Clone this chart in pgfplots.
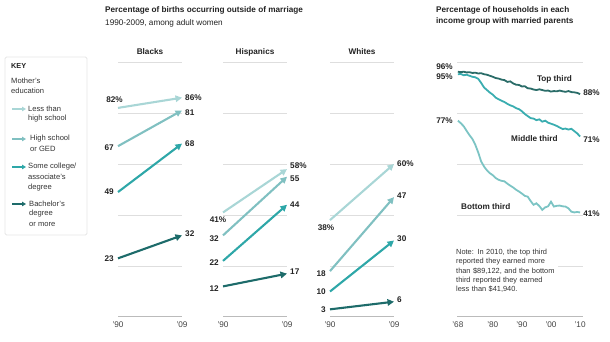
\documentclass[border=0pt]{standalone}
\usepackage{pgfplots}
\pgfplotsset{compat=1.18}
\usepackage{fontspec}
\setmainfont{Liberation Sans}
\usetikzlibrary{arrows.meta}

\definecolor{cA}{HTML}{A9D6D6}
\definecolor{cB}{HTML}{80C0C1}
\definecolor{cC}{HTML}{2EA7A8}
\definecolor{cD}{HTML}{1D6B6A}
\definecolor{rTop}{HTML}{2A6C68}
\definecolor{rMid}{HTML}{3AADB0}
\definecolor{rBot}{HTML}{7CC4C4}
\definecolor{txt}{HTML}{222222}
\definecolor{keyt}{HTML}{333333}
\definecolor{gridc}{HTML}{DEDEDE}
\definecolor{basec}{HTML}{BBBBBB}

\newcommand{\fs}{\fontsize{8.2}{9.8}\selectfont}
\newcommand{\ks}{\fontsize{7.6}{9.5}\selectfont}

\tikzset{kl/.style={anchor=west, font=\ks, text=keyt, inner sep=0pt},
  karr/.style={line width=1.5pt, -{Triangle[length=4pt,width=4.5pt]}, color=#1},
  lab/.style={font=\bfseries\fs, text=txt, inner sep=1pt},
  arr/.style={line width=2.1pt, -{Triangle[length=6.5pt,width=6.5pt]}, color=#1}}

\pgfplotsset{
  base/.style={scale only axis, height=255pt, ymin=0, ymax=100, clip=false,
    axis line style={draw=none}, ytick={20,40,60,80,100}, yticklabels={},
    ymajorgrids, grid style={gridc, line width=0.9pt},
    extra y ticks={0}, extra y tick labels={},
    extra y tick style={major grid style={basec, line width=1pt}},
    major tick length=0pt, tick style={draw=none},
    xticklabel style={font=\fs, text=txt!85, yshift=-1pt},
    /pgf/number format/assume math mode=true,
  },
  panel/.style={base, width=64pt, xmin=0, xmax=1, xtick={0,1}, xticklabels={’90,’09}},
}

\begin{document}
\begin{tikzpicture}
\path[use as bounding box] (0,0) rectangle (610pt,342pt);

% titles
\node[anchor=west, font=\bfseries\fs, text=txt, inner sep=0pt] at (105pt,332pt) {Percentage of births occurring outside of marriage};
\node[anchor=west, font=\fs, text=txt, inner sep=0pt] at (105pt,319pt) {1990-2009, among adult women};
\node[font=\bfseries\fs, text=txt, inner sep=0pt] at (150pt,290pt) {Blacks};
\node[font=\bfseries\fs, text=txt, inner sep=0pt] at (255pt,290pt) {Hispanics};
\node[font=\bfseries\fs, text=txt, inner sep=0pt] at (362pt,290pt) {Whites};
\node[anchor=west, font=\bfseries\fs, text=txt, inner sep=0pt] at (436pt,332pt) {Percentage of households in each};
\node[anchor=west, font=\bfseries\fs, text=txt, inner sep=0pt] at (436pt,321pt) {income group with married parents};

% key
\draw[draw=black!10, line width=0.8pt, rounded corners=1.5pt] (5pt,107pt) rectangle (87pt,285pt);
\node[anchor=west, font=\bfseries\fontsize{7.3}{9}\selectfont, text=txt, inner sep=0pt] at (11pt,276pt) {KEY};
\node[kl] at (11pt,261pt) {Mother's};
\node[kl] at (11pt,251pt) {education};
\draw[karr=cA] (12pt,233pt) -- (26pt,233pt);
\node[kl] at (28pt,233pt) {Less than};
\node[kl] at (28pt,223pt) {high school};
\draw[karr=cB] (12pt,203pt) -- (26pt,203pt);
\node[kl] at (30pt,203pt) {High school};
\node[kl] at (30pt,193pt) {or GED};
\draw[karr=cC] (12pt,175pt) -- (26pt,175pt);
\node[kl] at (28pt,175pt) {Some college/};
\node[kl] at (28pt,165pt) {associate's};
\node[kl] at (28pt,154pt) {degree};
\draw[karr=cD] (12pt,138pt) -- (26pt,138pt);
\node[kl] at (29pt,138pt) {Bachelor's};
\node[kl] at (29pt,128pt) {degree};
\node[kl] at (29pt,118pt) {or more};

% Blacks
\begin{axis}[panel, at={(118pt,25pt)}, anchor=south west]
\addplot[arr=cD] coordinates {(0,23) (1,32)};
\addplot[arr=cC] coordinates {(0,49) (1,68)};
\addplot[arr=cB] coordinates {(0,67) (1,81)};
\addplot[arr=cA] coordinates {(0,82) (1,86)};
\node[lab, xshift=-3.5pt, yshift=8pt] at (axis cs:0,82) {82\%};
\node[lab, anchor=west, xshift=2pt] at (axis cs:1,86) {86\%};
\node[lab, anchor=east, xshift=-3pt, yshift=-2pt] at (axis cs:0,67) {67};
\node[lab, anchor=west, xshift=2pt, yshift=-2pt] at (axis cs:1,81) {81};
\node[lab, anchor=east, xshift=-3pt] at (axis cs:0,49) {49};
\node[lab, anchor=west, xshift=2pt] at (axis cs:1,68) {68};
\node[lab, anchor=east, xshift=-3pt] at (axis cs:0,23) {23};
\node[lab, anchor=west, xshift=2pt, yshift=2pt] at (axis cs:1,32) {32};
\end{axis}

% Hispanics
\begin{axis}[panel, at={(223pt,25pt)}, anchor=south west]
\addplot[arr=cD] coordinates {(0,12) (1,17)};
\addplot[arr=cC] coordinates {(0,22) (1,44)};
\addplot[arr=cB] coordinates {(0,32) (1,55)};
\addplot[arr=cA] coordinates {(0,41) (1,58)};
\node[lab, xshift=-5pt, yshift=-7.5pt] at (axis cs:0,41) {41\%};
\node[lab, anchor=west, xshift=2pt, yshift=3pt] at (axis cs:1,58) {58\%};
\node[lab, anchor=east, xshift=-3pt, yshift=-3pt] at (axis cs:0,32) {32};
\node[lab, anchor=west, xshift=2pt, yshift=-2pt] at (axis cs:1,55) {55};
\node[lab, anchor=east, xshift=-3pt, yshift=-2pt] at (axis cs:0,22) {22};
\node[lab, anchor=west, xshift=2pt] at (axis cs:1,44) {44};
\node[lab, anchor=east, xshift=-3pt, yshift=-2pt] at (axis cs:0,12) {12};
\node[lab, anchor=west, xshift=2pt, yshift=2pt] at (axis cs:1,17) {17};
\end{axis}

% Whites
\begin{axis}[panel, at={(330pt,25pt)}, anchor=south west]
\addplot[arr=cD] coordinates {(0,3) (1,6)};
\addplot[arr=cC] coordinates {(0,10) (1,30)};
\addplot[arr=cB] coordinates {(0,18) (1,47)};
\addplot[arr=cA] coordinates {(0,38) (1,60)};
\node[lab, xshift=-4pt, yshift=-8pt] at (axis cs:0,38) {38\%};
\node[lab, anchor=west, xshift=2pt] at (axis cs:1,60) {60\%};
\node[lab, anchor=east, xshift=-3pt, yshift=-3pt] at (axis cs:0,18) {18};
\node[lab, anchor=west, xshift=2pt, yshift=1pt] at (axis cs:1,47) {47};
\node[lab, anchor=east, xshift=-3pt] at (axis cs:0,10) {10};
\node[lab, anchor=west, xshift=2pt, yshift=2pt] at (axis cs:1,30) {30};
\node[lab, anchor=east, xshift=-3pt] at (axis cs:0,3) {3};
\node[lab, anchor=west, xshift=2pt, yshift=2pt] at (axis cs:1,6) {6};
\end{axis}

% Households
\begin{axis}[base, at={(457pt,25pt)}, anchor=south west, width=126pt,
  xmin=1967.7, xmax=2011, xtick={1968,1980,1990,2000,2010},
  xticklabels={’68,’80,’90,’00,’10}]
\addplot[rBot, line width=1.8pt] coordinates {
(1968,77.0)(1969,76.0)(1970,74.8)(1971,73.0)(1972,71.3)(1973,69.8)(1974,67.5)
(1975,64.5)(1976,61.0)(1977,59.0)(1978,57.5)(1979,56.4)(1980,55.6)(1981,54.5)
(1982,53.8)(1983,53.4)(1984,53.2)(1985,52.3)(1986,51.5)(1987,50.8)(1988,49.9)
(1989,49.2)(1990,48.4)(1991,47.5)(1992,47.2)(1993,45.5)(1994,44.0)(1995,44.6)
(1996,43.5)(1997,42.0)(1998,43.0)(1999,43.4)(2000,45.2)(2001,43.3)(2002,43.6)
(2003,43.7)(2004,43.4)(2005,43.3)(2006,42.6)(2007,41.3)(2008,41.0)(2009,41.2)(2010,41.0)};
\addplot[rMid, line width=1.8pt] coordinates {
(1968,95.2)(1969,95.3)(1970,94.8)(1971,95.0)(1972,94.6)(1973,94.2)(1974,94.0)
(1975,93.4)(1976,91.8)(1977,90.0)(1978,89.0)(1979,88.0)(1980,87.2)(1981,86.0)
(1982,85.4)(1983,84.8)(1984,84.3)(1985,83.6)(1986,83.0)(1987,82.6)(1988,81.9)
(1989,81.5)(1990,80.7)(1991,79.6)(1992,78.8)(1993,78.0)(1994,77.8)(1995,77.2)
(1996,77.5)(1997,76.6)(1998,77.0)(1999,76.2)(2000,75.8)(2001,75.4)(2002,74.9)
(2003,74.3)(2004,73.7)(2005,73.9)(2006,73.5)(2007,73.8)(2008,72.9)(2009,72.0)(2010,70.8)};
\addplot[rTop, line width=1.8pt] coordinates {
(1968,96.2)(1969,96.0)(1970,96.2)(1971,95.9)(1972,96.0)(1973,95.7)(1974,95.8)
(1975,95.5)(1976,95.6)(1977,95.2)(1978,95.0)(1979,94.6)(1980,94.2)(1981,93.7)
(1982,93.5)(1983,93.1)(1984,92.9)(1985,92.2)(1986,92.4)(1987,91.6)(1988,91.1)
(1989,91.0)(1990,90.4)(1991,90.5)(1992,89.7)(1993,89.6)(1994,89.2)(1995,89.0)
(1996,89.3)(1997,89.0)(1998,88.7)(1999,88.8)(2000,88.4)(2001,88.6)(2002,88.5)
(2003,88.8)(2004,88.5)(2005,88.3)(2006,88.6)(2007,88.2)(2008,88.1)(2009,87.9)(2010,87.4)};
\node[lab, anchor=east, xshift=-4pt, yshift=6pt] at (axis cs:1968,96) {96\%};
\node[lab, anchor=east, xshift=-4pt, yshift=-2.3pt] at (axis cs:1968,95) {95\%};
\node[lab, anchor=east, xshift=-4pt] at (axis cs:1968,77) {77\%};
\node[lab, anchor=west, xshift=2pt, yshift=1pt] at (axis cs:2010,87.4) {88\%};
\node[lab, anchor=west, xshift=2pt, yshift=-3.5pt] at (axis cs:2010,70.8) {71\%};
\node[lab, anchor=west, xshift=2pt, yshift=-1.5pt] at (axis cs:2010,41.0) {41\%};
\node[lab] at (axis cs:2001.2,93.3) {Top third};
\node[lab] at (axis cs:1994.3,69.8) {Middle third};
\node[lab] at (axis cs:1977.6,43.5) {Bottom third};
\end{axis}

\node[anchor=north west, fill=white, inner sep=1.5pt, text width=100pt, align=left,
  font=\fontsize{7.4}{9.3}\selectfont, text=keyt] at (454.5pt,94.5pt)
  {Note: In 2010, the top third reported they earned more than \$89,122, and the bottom third reported they earned less than \$41,940.};
\end{tikzpicture}
\end{document}
